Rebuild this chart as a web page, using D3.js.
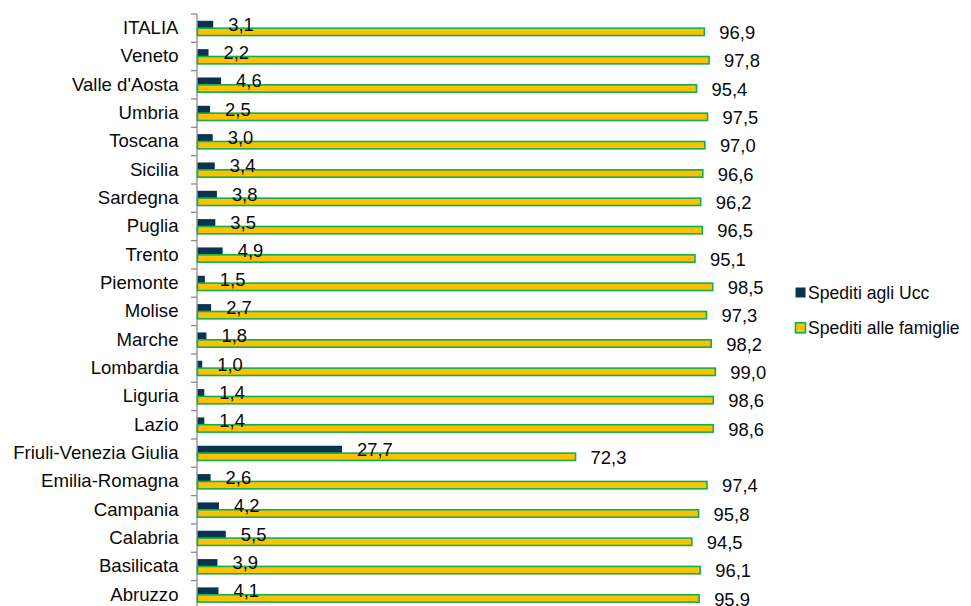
<!DOCTYPE html>
<html>
<head>
<meta charset="utf-8">
<script src="https://cdn.jsdelivr.net/npm/d3@7"></script>
<style>
  html, body { margin: 0; padding: 0; background: #fff; }
  svg { display: block; font-family: "Liberation Sans", Arial, sans-serif; }
</style>
</head>
<body>
<svg id="chart" width="971" height="606"></svg>
<script>
// Regions, top to bottom
const regions = ["ITALIA", "Veneto", "Valle d'Aosta", "Umbria", "Toscana", "Sicilia", "Sardegna",
  "Puglia", "Trento", "Piemonte", "Molise", "Marche", "Lombardia", "Liguria", "Lazio",
  "Friuli-Venezia Giulia", "Emilia-Romagna", "Campania", "Calabria", "Basilicata", "Abruzzo"];

// Share (%) sent to the Ucc offices
const speditiUcc = [3.1, 2.2, 4.6, 2.5, 3.0, 3.4, 3.8, 3.5, 4.9, 1.5, 2.7, 1.8, 1.0, 1.4, 1.4,
  27.7, 2.6, 4.2, 5.5, 3.9, 4.1];

// Share (%) sent to the families
const speditiFamiglie = [96.9, 97.8, 95.4, 97.5, 97.0, 96.6, 96.2, 96.5, 95.1, 98.5, 97.3, 98.2,
  99.0, 98.6, 98.6, 72.3, 97.4, 95.8, 94.5, 96.1, 95.9];

const seriesNames = ["Spediti agli Ucc", "Spediti alle famiglie"];

const svg = d3.select("#chart");
const fmt = v => d3.format(".1f")(v).replace(".", ",");

const axisX = 197;
const x = d3.scaleLinear().domain([0, 100]).range([axisX, axisX + 523.6]);
const y0 = d3.scaleBand().domain(regions).range([14, 14 + 28.33 * regions.length])
  .paddingInner(0.48).paddingOuter(0.24);
const y1 = d3.scaleBand().domain(seriesNames).range([0, y0.bandwidth()]);

const styles = {
  "Spediti agli Ucc": { fill: "#08344f", stroke: "none", dy: 6.3 },
  "Spediti alle famiglie": { fill: "#ffc000", stroke: "#10b050", dy: 7.3 }
};

const rows = regions.map((r, i) => ({
  region: r,
  values: [
    { key: seriesNames[0], value: speditiUcc[i] },
    { key: seriesNames[1], value: speditiFamiglie[i] }
  ]
}));

// Category axis with ticks between categories
const step = y0.step();
const axisTop = y0.range()[0];
const g = svg.append("g");
g.append("line")
  .attr("x1", axisX).attr("x2", axisX)
  .attr("y1", axisTop).attr("y2", axisTop + step * regions.length)
  .attr("stroke", "#8c8c8c").attr("stroke-width", 1.3);
g.selectAll("line.tick")
  .data(d3.range(regions.length + 1))
  .join("line").attr("class", "tick")
  .attr("x1", axisX - 6).attr("x2", axisX)
  .attr("y1", i => axisTop + i * step).attr("y2", i => axisTop + i * step)
  .attr("stroke", "#8c8c8c").attr("stroke-width", 1.3);

g.selectAll("text.cat")
  .data(regions)
  .join("text").attr("class", "cat")
  .attr("x", 178.5)
  .attr("y", d => y0(d) - step * 0.24 + step / 2)
  .attr("dy", "0.32em")
  .attr("text-anchor", "end")
  .attr("font-size", 18.6)
  .attr("fill", "#0a0a0a")
  .text(d => d);

// Bars
const groups = svg.append("g").selectAll("g")
  .data(rows)
  .join("g")
  .attr("transform", d => `translate(0,${y0(d.region)})`);

groups.selectAll("rect")
  .data(d => d.values)
  .join("rect")
  .attr("x", x(0) + 0.5)
  .attr("y", d => y1(d.key))
  .attr("width", d => x(d.value) - x(0) - 0.5)
  .attr("height", y1.bandwidth())
  .attr("fill", d => styles[d.key].fill)
  .attr("stroke", d => styles[d.key].stroke)
  .attr("stroke-width", 1.6);

groups.selectAll("text")
  .data(d => d.values)
  .join("text")
  .attr("x", d => x(d.value) + 15)
  .attr("y", d => y1(d.key) + y1.bandwidth() / 2 + styles[d.key].dy)
  .attr("font-size", 18.4)
  .attr("fill", "#0a0a0a")
  .text(d => fmt(d.value));

// Legend
const legend = svg.append("g").selectAll("g")
  .data(seriesNames)
  .join("g")
  .attr("transform", (d, i) => `translate(795.5,${287.5 + i * 35.3})`);
legend.append("rect")
  .attr("x", 0)
  .attr("y", 0)
  .attr("width", 10).attr("height", 10)
  .attr("fill", d => styles[d].fill)
  .attr("stroke", d => styles[d].stroke)
  .attr("stroke-width", 1.6);
legend.append("text")
  .attr("x", 12.5)
  .attr("y", 11.5)
  .attr("font-size", 17.6)
  .attr("fill", "#0a0a0a")
  .text(d => d);
</script>
</body>
</html>
